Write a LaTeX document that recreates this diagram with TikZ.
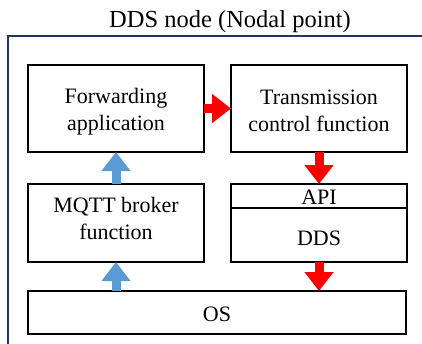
\documentclass[tikz,border=0pt]{standalone}
\usepackage{fontspec}
\setmainfont{Liberation Serif}
\usetikzlibrary{arrows.meta}
\definecolor{frameblue}{RGB}{31,56,96}
\definecolor{arrred}{RGB}{255,0,0}
\definecolor{arrblue}{RGB}{91,155,213}
\begin{document}
\begin{tikzpicture}[x=1pt,y=-1pt,
  box/.style={draw=black,line width=2pt,inner sep=0pt,outer sep=0pt},
  txt/.style={font=\fontsize{22}{27}\selectfont,align=center,inner sep=0pt},
  redarr/.style={draw=arrred,fill=arrred,line width=9pt,-{Triangle[length=19pt,width=28pt]}},
  bluearr/.style={draw=arrblue,fill=arrblue,line width=9pt,-{Triangle[length=19pt,width=28pt]}}]
\useasboundingbox (0,0) rectangle (422,343);
\draw[frameblue,line width=2pt] (8,360) |- (440,36);
\node[font=\fontsize{24.5}{29}\selectfont,anchor=base,inner sep=0pt] (title) at (230,27) {DDS node (Nodal point)};
% boxes
\node[box,minimum width=176pt,minimum height=87pt] (fwd) at (116,108.5) {};
\node[box,minimum width=176pt,minimum height=87pt] (tcf) at (319,108.5) {};
\node[box,minimum width=176pt,minimum height=78pt] (mqtt) at (116,223) {};
\node[box,minimum width=176pt,minimum height=24pt] (api) at (319,196) {};
\node[box,minimum width=176pt,minimum height=54pt] (dds) at (319,235) {};
\node[box,minimum width=378pt,minimum height=43pt] (os) at (217,312.5) {};
% texts
\node[txt] (fwdt) at (116,111.5) {Forwarding\\application};
\node[txt] (tcft) at (319,111) {Transmission\\control function};
\node[txt] (mqttt) at (116,218) {MQTT broker\\function};
\node[txt,anchor=base] (apit) at (319,204) {API};
\node[txt,anchor=base] (ddst) at (319,245) {DDS};
\node[txt,anchor=base] (ost) at (217,321) {OS};
% arrows
\draw[redarr] (fwd.east) -- (tcf.west);
\draw[redarr] (tcf.south) -- (api.north);
\draw[redarr] (dds.south) -- (dds.south |- os.north);
\draw[bluearr] (mqtt.north) -- (fwd.south);
\draw[bluearr] (mqtt.south |- os.north) -- (mqtt.south);
\end{tikzpicture}
\end{document}
